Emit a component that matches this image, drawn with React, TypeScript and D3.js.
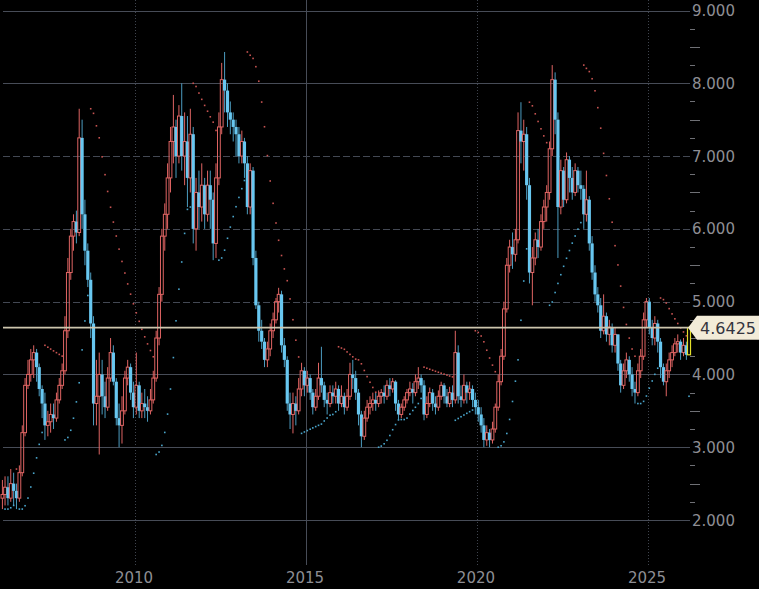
import React from "react";
import * as d3 from "d3";

const W = 759;
const H = 589;

// Monthly bars, first bar = Feb 2006
const START_YEAR = 2006;
const START_MONTH = 1; // February (0-based)
const FIRST_OPEN = 2.3;

const closes = [
  /*2006*/ 2.35, 2.45, 2.30, 2.50, 2.40, 2.30, 2.65, 3.20, 3.85, 4.00, 4.20,
  /*2007*/ 4.30, 4.10, 3.80, 3.60, 3.30, 3.35, 3.45, 3.40, 3.65, 3.85, 4.05, 4.60,
  /*2008*/ 5.40, 5.90, 6.10, 5.95, 7.25, 6.20, 5.70, 5.30, 4.70, 3.60, 3.70, 4.00,
  /*2009*/ 3.70, 3.55, 3.95, 4.30, 3.90, 3.40, 3.30, 3.50, 3.95, 4.10, 3.75, 3.55,
  /*2010*/ 3.85, 3.50, 3.60, 3.55, 3.50, 3.65, 3.95, 4.50, 5.10, 5.90, 6.20, 6.70,
  /*2011*/ 7.20, 7.40, 7.00, 7.55, 7.00, 7.20, 6.70, 7.30, 6.00, 6.50, 6.30, 6.60,
  /*2012*/ 6.20, 6.60, 6.40, 5.80, 6.70, 7.40, 8.05, 7.90, 7.60, 7.50, 7.40, 7.30,
  /*2013*/ 7.00, 7.20, 6.90, 6.30, 6.80, 5.60, 4.95, 4.60, 4.45, 4.20, 4.35, 4.60,
  /*2014*/ 4.75, 5.00, 5.10, 4.40, 4.20, 3.60, 3.45, 3.60, 3.50, 3.80, 4.05, 3.85,
  /*2015*/ 3.95, 3.75, 3.55, 3.70, 3.95, 3.85, 3.65, 3.60, 3.75, 3.70, 3.80, 3.60,
  /*2016*/ 3.70, 3.55, 3.70, 4.00, 3.95, 3.75, 3.45, 3.15, 3.40, 3.55, 3.60, 3.65,
  /*2017*/ 3.60, 3.70, 3.75, 3.70, 3.85, 3.80, 3.90, 3.60, 3.45, 3.55, 3.65, 3.75,
  /*2018*/ 3.80, 3.75, 3.90, 3.95, 3.85, 3.45, 3.60, 3.75, 3.60, 3.55, 3.70, 3.85,
  /*2019*/ 3.70, 3.60, 3.75, 3.65, 4.30, 3.70, 3.65, 3.85, 3.75, 3.80, 3.65, 3.55,
  /*2020*/ 3.45, 3.30, 3.10, 3.20, 3.10, 3.25, 3.55, 3.90, 4.25, 4.90, 5.50, 5.75,
  /*2021*/ 5.65, 5.85, 7.35, 7.20, 7.30, 6.60, 5.40, 5.60, 5.85, 5.75, 6.10, 6.30,
  /*2022*/ 6.50, 7.10, 8.05, 7.50, 6.30, 6.80, 6.40, 6.95, 6.70, 6.50, 6.80, 6.60,
  /*2023*/ 6.55, 6.20, 6.40, 5.80, 5.40, 5.10, 4.95, 4.60, 4.80, 4.55, 4.65, 4.40,
  /*2024*/ 4.55, 4.15, 3.85, 4.05, 4.20, 4.00, 3.80, 3.75, 4.05, 4.25, 4.75, 5.00,
  /*2025*/ 4.65, 4.50, 4.70, 4.45, 4.10, 3.90, 4.05, 4.20, 4.30, 4.42, 4.45, 4.30,
  /*2026*/ 4.40, 4.27, 4.6425,
];

const highs = [
  /*2006*/ 2.55, 2.60, 2.60, 2.70, 2.65, 2.50, 2.75, 3.30, 3.95, 4.20, 4.35,
  /*2007*/ 4.40, 4.35, 4.15, 3.85, 3.75, 3.50, 3.60, 3.60, 3.75, 3.95, 4.15, 4.80,
  /*2008*/ 5.60, 6.00, 6.20, 6.25, 7.65, 7.50, 6.40, 5.80, 5.40, 4.80, 4.20, 4.30,
  /*2009*/ 4.20, 3.90, 4.10, 4.50, 4.40, 3.95, 3.60, 3.70, 4.05, 4.20, 4.15, 3.90,
  /*2010*/ 4.30, 3.90, 3.75, 3.80, 3.70, 3.80, 4.05, 4.60, 5.20, 6.00, 6.35, 6.90,
  /*2011*/ 7.40, 7.84, 7.50, 7.70, 8.00, 7.60, 7.55, 7.65, 7.40, 6.70, 6.80, 6.90,
  /*2012*/ 6.70, 6.80, 6.80, 6.50, 6.90, 7.60, 8.28, 8.43, 8.00, 7.75, 7.60, 7.50,
  /*2013*/ 7.40, 7.35, 7.25, 7.00, 6.90, 6.85, 5.70, 5.00, 4.75, 4.50, 4.45, 4.70,
  /*2014*/ 4.85, 5.05, 5.19, 5.15, 4.50, 4.25, 3.75, 3.75, 3.70, 3.95, 4.16, 4.10,
  /*2015*/ 4.05, 4.00, 3.80, 3.80, 4.16, 4.38, 3.90, 3.75, 3.85, 3.85, 3.90, 3.85,
  /*2016*/ 3.85, 3.75, 3.80, 4.16, 4.20, 4.05, 3.80, 3.50, 3.50, 3.65, 3.70, 3.75,
  /*2017*/ 3.75, 3.78, 3.80, 3.85, 3.92, 3.95, 3.95, 3.92, 3.65, 3.60, 3.70, 3.80,
  /*2018*/ 3.90, 3.88, 4.00, 4.10, 4.00, 3.92, 3.70, 3.82, 3.80, 3.70, 3.78, 3.90,
  /*2019*/ 3.88, 3.80, 3.83, 3.85, 4.60, 4.40, 3.85, 4.00, 3.90, 3.90, 3.85, 3.75,
  /*2020*/ 3.65, 3.55, 3.40, 3.30, 3.25, 3.35, 3.60, 4.00, 4.35, 5.00, 5.60, 5.85,
  /*2021*/ 5.95, 6.00, 7.60, 7.74, 7.50, 7.40, 6.70, 5.75, 5.95, 6.00, 6.20, 6.40,
  /*2022*/ 6.60, 7.20, 8.25, 8.15, 7.60, 6.95, 6.85, 7.05, 7.00, 6.85, 6.90, 6.85,
  /*2023*/ 6.80, 6.60, 6.80, 6.45, 5.90, 5.50, 5.20, 5.05, 5.10, 4.85, 4.75, 4.70,
  /*2024*/ 4.65, 4.55, 4.20, 4.15, 4.30, 4.25, 4.10, 3.90, 4.15, 4.35, 4.85, 5.05,
  /*2025*/ 5.05, 4.75, 4.80, 4.75, 4.50, 4.15, 4.15, 4.30, 4.40, 4.50, 4.55, 4.48,
  /*2026*/ 4.50, 4.45, 4.66,
];

const lows = [
  /*2006*/ 2.15, 2.20, 2.20, 2.25, 2.20, 2.15, 2.25, 2.60, 3.15, 3.80, 3.90,
  /*2007*/ 3.95, 3.90, 3.70, 3.40, 3.10, 3.15, 3.20, 3.25, 3.35, 3.60, 3.80, 4.00,
  /*2008*/ 4.50, 5.30, 5.70, 5.80, 5.90, 6.00, 5.50, 5.20, 4.50, 3.30, 3.30, 2.90,
  /*2009*/ 3.45, 3.40, 3.50, 3.90, 3.85, 3.30, 3.00, 3.05, 3.45, 3.85, 3.65, 3.40,
  /*2010*/ 3.45, 3.40, 3.40, 3.40, 3.35, 3.45, 3.60, 3.90, 4.40, 5.00, 5.70, 6.00,
  /*2011*/ 6.50, 6.90, 6.70, 6.90, 6.80, 6.60, 6.30, 6.50, 5.80, 5.70, 6.00, 6.10,
  /*2012*/ 6.00, 6.10, 6.00, 5.57, 5.60, 6.60, 7.30, 7.60, 7.40, 7.30, 7.20, 7.00,
  /*2013*/ 6.90, 6.90, 6.70, 6.20, 6.20, 5.50, 4.90, 4.45, 4.35, 4.10, 4.10, 4.25,
  /*2014*/ 4.50, 4.70, 4.85, 4.30, 4.10, 3.50, 3.25, 3.19, 3.30, 3.45, 3.70, 3.70,
  /*2015*/ 3.75, 3.65, 3.45, 3.50, 3.65, 3.75, 3.55, 3.45, 3.55, 3.60, 3.60, 3.50,
  /*2016*/ 3.55, 3.45, 3.50, 3.65, 3.80, 3.65, 3.30, 3.00, 3.10, 3.35, 3.45, 3.50,
  /*2017*/ 3.50, 3.55, 3.60, 3.60, 3.65, 3.70, 3.75, 3.50, 3.38, 3.40, 3.50, 3.60,
  /*2018*/ 3.70, 3.60, 3.70, 3.80, 3.75, 3.37, 3.40, 3.55, 3.50, 3.45, 3.50, 3.65,
  /*2019*/ 3.60, 3.55, 3.55, 3.55, 3.60, 3.60, 3.55, 3.60, 3.60, 3.65, 3.55, 3.45,
  /*2020*/ 3.35, 3.20, 3.00, 3.02, 3.00, 3.05, 3.20, 3.50, 3.85, 4.20, 4.85, 5.40,
  /*2021*/ 5.45, 5.55, 5.80, 6.90, 6.80, 6.40, 5.25, 4.95, 5.50, 5.60, 5.70, 6.00,
  /*2022*/ 6.10, 6.40, 7.00, 7.30, 5.60, 6.20, 6.30, 6.35, 6.50, 6.40, 6.45, 6.50,
  /*2023*/ 6.40, 6.00, 6.10, 5.70, 5.30, 5.00, 4.85, 4.50, 4.55, 4.45, 4.40, 4.30,
  /*2024*/ 4.30, 4.05, 3.75, 3.80, 3.95, 3.90, 3.70, 3.60, 3.70, 3.95, 4.20, 4.65,
  /*2025*/ 4.55, 4.40, 4.40, 4.30, 3.95, 3.85, 3.70, 3.95, 4.10, 4.25, 4.30, 4.20,
  /*2026*/ 4.25, 4.20, 4.27,
];

const priceTicks = [2, 3, 4, 5, 6, 7, 8, 9];
const dashedPriceTicks = [5, 6, 7];
const yearTicks = [2010, 2015, 2020, 2025];
const dottedYears = [2010, 2020, 2025];
const lastPrice = 4.6425;

const UP = "#df6463";
const DOWN_FILL = "#68c7f0";
const DOWN_WICK = "#4c9cc0";
const LAST = "#e4df2a";
const GRID = "#474c57";
const LABEL = "#8e8e94";
const FONT = "DejaVu Sans, Verdana, sans-serif";

type Bar = { d: Date; o: number; h: number; l: number; c: number };

function parabolicSar(bars: Bar[], step = 0.02, maxAf = 0.2) {
  const out: { d: Date; v: number; up: boolean }[] = [];
  if (bars.length < 2) return out;
  let up = bars[1].c >= bars[0].c;
  let af = step;
  let ep = up ? bars[0].h : bars[0].l;
  let sar = up ? bars[0].l : bars[0].h;
  for (let i = 1; i < bars.length; i++) {
    const b = bars[i];
    sar = sar + af * (ep - sar);
    if (up) {
      sar = Math.min(sar, bars[i - 1].l, bars[Math.max(0, i - 2)].l);
      if (b.l < sar) {
        up = false;
        sar = ep;
        ep = b.l;
        af = step;
      } else if (b.h > ep) {
        ep = b.h;
        af = Math.min(af + step, maxAf);
      }
    } else {
      sar = Math.max(sar, bars[i - 1].h, bars[Math.max(0, i - 2)].h);
      if (b.h > sar) {
        up = true;
        sar = ep;
        ep = b.h;
        af = step;
      } else if (b.l < ep) {
        ep = b.l;
        af = Math.min(af + step, maxAf);
      }
    }
    out.push({ d: b.d, v: sar, up });
  }
  return out;
}

export default function App() {
  const x = d3
    .scaleTime()
    .domain([new Date(2010, 0, 1), new Date(2025, 0, 1)])
    .range([135, 648]);
  const y = d3.scaleLinear().domain([2, 9]).range([520, 10.5]);

  const bars: Bar[] = closes.map((c, i) => ({
    d: new Date(START_YEAR, START_MONTH + i, 15),
    o: i === 0 ? FIRST_OPEN : closes[i - 1],
    h: highs[i],
    l: lows[i],
    c,
  }));
  const sar = parabolicSar(bars);

  const minorTicks = d3.range(2.25, 9, 0.25).filter((v) => Math.abs(v - Math.round(v)) > 1e-6);

  const plotLeft = 3;
  const plotRight = 690;
  const lastY = y(lastPrice);

  return (
    <div style={{ position: "fixed", left: 0, top: 0, width: W, height: H, background: "#000" }}>
      <svg width={W} height={H} style={{ display: "block" }} fontFamily={FONT}>
        <rect x={0} y={0} width={W} height={H} fill="#000" />

        {/* vertical year grid */}
        {yearTicks.map((yr) => {
          const xx = Math.round(x(new Date(yr, 0, 1))) + 0.5;
          const dotted = dottedYears.includes(yr);
          return (
            <line
              key={"vx" + yr}
              x1={xx}
              x2={xx}
              y1={0}
              y2={565}
              stroke={dotted ? "#3f444e" : GRID}
              strokeWidth={1}
              strokeDasharray={dotted ? "1,2" : undefined}
            />
          );
        })}

        {/* horizontal price grid */}
        {priceTicks.map((v) => {
          const yy = Math.round(y(v)) + 0.5;
          const dashed = dashedPriceTicks.includes(v);
          return (
            <line
              key={"hy" + v}
              x1={plotLeft}
              x2={plotRight}
              y1={yy}
              y2={yy}
              stroke={dashed ? "#434853" : GRID}
              strokeWidth={1}
              strokeDasharray={dashed ? "7,3" : undefined}
            />
          );
        })}

        {/* minor ticks on price axis */}
        {minorTicks.map((v) => {
          const half = Math.abs(v - Math.floor(v) - 0.5) < 1e-6;
          const yy = Math.round(y(v)) + 0.5;
          return (
            <line
              key={"mt" + v}
              x1={plotRight}
              x2={plotRight + (half ? 10 : 5)}
              y1={yy}
              y2={yy}
              stroke="#6f7075"
              strokeWidth={1}
            />
          );
        })}

        {/* candles */}
        {bars.map((b, i) => {
          const cx = x(b.d);
          const isLast = i === bars.length - 1;
          const top = y(Math.max(b.o, b.c));
          const bot = y(Math.min(b.o, b.c));
          const bh = Math.max(bot - top, 1);
          if (isLast) {
            return (
              <g key={i}>
                <line x1={cx} x2={cx} y1={y(b.h)} y2={top} stroke={LAST} />
                <line x1={cx} x2={cx} y1={bot} y2={y(b.l)} stroke={LAST} />
                <rect x={cx - 1.5} y={top} width={3} height={bh} fill="none" stroke={LAST} strokeWidth={1.2} />
              </g>
            );
          }
          if (b.c >= b.o) {
            return (
              <g key={i}>
                <line x1={cx} x2={cx} y1={y(b.h)} y2={top} stroke={UP} strokeWidth={1} />
                <line x1={cx} x2={cx} y1={bot} y2={y(b.l)} stroke={UP} strokeWidth={1} />
                <rect x={cx - 1.4} y={top} width={2.8} height={bh} fill="none" stroke={UP} strokeWidth={1} />
              </g>
            );
          }
          return (
            <g key={i}>
              <line x1={cx} x2={cx} y1={y(b.h)} y2={y(b.l)} stroke={DOWN_WICK} strokeWidth={1} />
              <rect x={cx - 1.6} y={top} width={3.2} height={bh} fill={DOWN_FILL} />
            </g>
          );
        })}

        {/* parabolic SAR dots */}
        {sar.map((s, i) => (
          <rect
            key={"s" + i}
            x={x(s.d) - 0.8}
            y={y(s.v) - 0.8}
            width={1.6}
            height={1.6}
            fill={s.up ? "#4aa6cc" : "#c85452"}
          />
        ))}

        {/* last price line */}
        <line x1={plotLeft} x2={688} y1={lastY} y2={lastY} stroke="#cdc6ae" strokeWidth={1.6} />

        {/* price axis labels */}
        {priceTicks.map((v) => (
          <text key={"pl" + v} x={692} y={y(v) + 5.5} fontSize={15} fill={LABEL}>
            {d3.format(".3f")(v)}
          </text>
        ))}

        {/* last price tag */}
        <path
          d={`M688,${lastY} L697,${lastY - 12} L${W},${lastY - 12} L${W},${lastY + 12} L697,${lastY + 12} Z`}
          fill="#f2ebd8"
        />
        <text x={700} y={lastY + 6} fontSize={16} fill="#34343e">
          {d3.format(".4f")(lastPrice)}
        </text>

        {/* year labels */}
        {yearTicks.map((yr) => (
          <text
            key={"yl" + yr}
            x={x(new Date(yr, 0, 1)) - 1}
            y={583}
            fontSize={15}
            fill={LABEL}
            textAnchor="middle"
          >
            {yr}
          </text>
        ))}
      </svg>
    </div>
  );
}
